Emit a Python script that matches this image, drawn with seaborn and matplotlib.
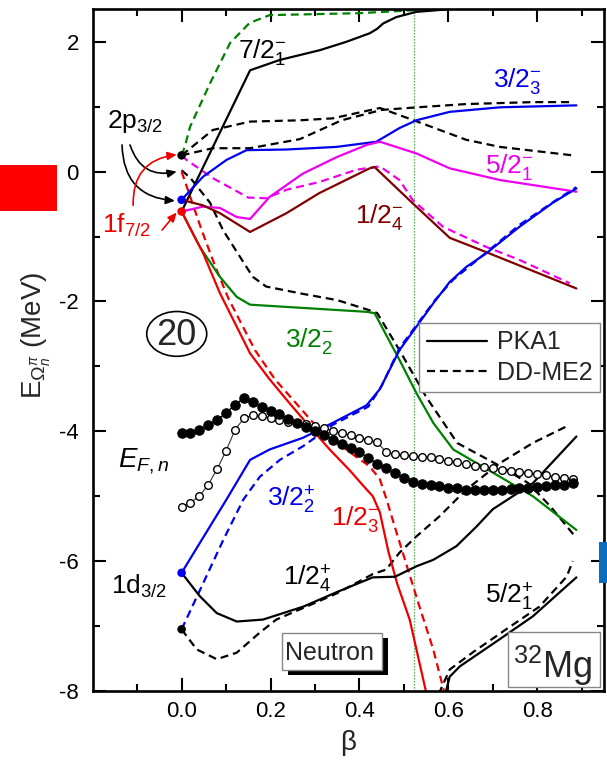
import matplotlib
matplotlib.use("Agg")
import matplotlib.pyplot as plt
import seaborn as sns
from matplotlib.patches import Rectangle, Ellipse
from matplotlib.lines import Line2D

# ---------------- single-neutron levels of 32Mg vs. deformation beta ----------------
# PKA1 (solid lines)
b_72m1_pka = [0.0, 0.154, 0.221, 0.311, 0.371, 0.423, 0.44, 0.453, 0.483, 0.528, 0.60]
e_72m1_pka = [-0.615, 1.56, 1.72, 1.87, 2.0, 2.13, 2.2, 2.28, 2.38, 2.46, 2.5]

b_32m3_pka = [0.0, 0.048, 0.101, 0.146, 0.236, 0.348, 0.416, 0.438, 0.49, 0.528, 0.603, 0.716, 0.888]
e_32m3_pka = [-0.435, -0.08, 0.18, 0.33, 0.34, 0.38, 0.44, 0.46, 0.67, 0.79, 0.92, 0.99, 1.02]

b_52m1_pka = [0.0, 0.048, 0.086, 0.124, 0.154, 0.198, 0.273, 0.348, 0.416, 0.446, 0.528, 0.603, 0.716, 0.888]
e_52m1_pka = [-0.615, -0.54, -0.56, -0.70, -0.73, -0.39, -0.03, 0.22, 0.41, 0.46, 0.28, 0.05, -0.13, -0.31]

b_12m4_pka = [0.0, 0.048, 0.086, 0.154, 0.236, 0.31, 0.423, 0.434, 0.52, 0.603, 0.685, 0.888]
e_12m4_pka = [-0.435, -0.52, -0.64, -0.93, -0.64, -0.33, 0.05, 0.07, -0.49, -1.02, -1.24, -1.80]

b_32m2_pka = [0.0, 0.041, 0.086, 0.124, 0.154, 0.273, 0.416, 0.434, 0.49, 0.528, 0.566, 0.611, 0.716, 0.79, 0.888]
e_32m2_pka = [-0.615, -1.16, -1.62, -1.93, -2.05, -2.10, -2.16, -2.18, -2.90, -3.41, -3.87, -4.28, -4.70, -5.00, -5.52]

b_12m3_pka = [0.0, 0.025, 0.048, 0.086, 0.124, 0.154, 0.198, 0.243, 0.288, 0.333, 0.378, 0.41, 0.43, 0.446, 0.465, 0.485, 0.513, 0.551]
e_12m3_pka = [-0.615, -0.95, -1.25, -1.87, -2.39, -2.80, -3.20, -3.57, -3.93, -4.28, -4.60, -4.85, -5.00, -5.25, -5.85, -6.35, -6.90, -8.05]

b_12p4_pka = [0.0, 0.041, 0.079, 0.124, 0.183, 0.274, 0.348, 0.43, 0.48, 0.528, 0.566, 0.618, 0.663, 0.70, 0.79, 0.888]
e_12p4_pka = [-6.18, -6.54, -6.80, -6.93, -6.90, -6.70, -6.48, -6.25, -6.24, -6.08, -5.98, -5.77, -5.47, -5.20, -4.80, -4.08]

b_32p2_pka = [0.0, 0.041, 0.101, 0.154, 0.198, 0.273, 0.34, 0.416, 0.446, 0.468, 0.49, 0.528, 0.566, 0.603, 0.64, 0.685, 0.76, 0.835, 0.888]
e_32p2_pka = [-6.18, -5.72, -5.05, -4.44, -4.28, -4.10, -3.87, -3.60, -3.35, -3.05, -2.75, -2.39, -2.03, -1.70, -1.47, -1.26, -0.85, -0.48, -0.26]

b_52p1_pka = [0.593, 0.603, 0.626, 0.716, 0.79, 0.888]
e_52p1_pka = [-8.05, -7.78, -7.62, -7.20, -6.85, -6.25]

# DD-ME2 (dashed lines)
b_72m1_dd = [0.0, 0.007, 0.019, 0.064, 0.109, 0.153, 0.198, 0.40, 0.535]
e_72m1_dd = [0.25, 0.38, 0.69, 1.36, 1.98, 2.29, 2.41, 2.44, 2.49]

b_upper_dd = [0.0, 0.07, 0.154, 0.266, 0.34, 0.446, 0.53, 0.64, 0.716, 0.88]
e_upper_dd = [0.25, 0.64, 0.77, 0.79, 0.82, 0.98, 0.77, 0.49, 0.38, 0.25]

b_lower_dd = [0.0, 0.07, 0.154, 0.266, 0.36, 0.45, 0.53, 0.64, 0.79, 0.88]
e_lower_dd = [0.25, 0.36, 0.36, 0.50, 0.79, 0.95, 0.99, 1.04, 1.07, 1.07]

b_52m1_dd = [0.0, 0.011, 0.07, 0.15, 0.19, 0.236, 0.31, 0.394, 0.446, 0.49, 0.52, 0.588, 0.685, 0.76, 0.873]
e_52m1_dd = [0.25, 0.18, -0.10, -0.40, -0.41, -0.28, -0.16, 0.03, 0.08, -0.13, -0.44, -0.85, -1.16, -1.36, -1.72]

b_32m2_dd = [0.0, 0.02, 0.064, 0.093, 0.131, 0.16, 0.19, 0.27, 0.35, 0.42, 0.44, 0.49, 0.55, 0.62, 0.72, 0.78, 0.83, 0.885]
e_32m2_dd = [0.02, -0.10, -0.48, -0.90, -1.31, -1.62, -1.77, -1.88, -1.98, -2.13, -2.18, -2.75, -3.47, -4.18, -4.55, -4.80, -5.16, -5.62]

b_12m3_dd = [0.0, 0.01, 0.025, 0.045, 0.075, 0.105, 0.135, 0.165, 0.21, 0.255, 0.30, 0.345, 0.39, 0.423, 0.446, 0.461, 0.483, 0.506, 0.535, 0.566, 0.592]
e_12m3_dd = [0.0, -0.20, -0.50, -0.90, -1.45, -1.95, -2.35, -2.75, -3.20, -3.55, -3.90, -4.15, -4.38, -4.54, -4.74, -5.05, -5.55, -6.06, -6.70, -7.36, -8.05]

b_32p2_dd = [0.0, 0.041, 0.094, 0.139, 0.176, 0.221, 0.273, 0.304, 0.34, 0.42, 0.45, 0.49, 0.53, 0.57, 0.61, 0.69, 0.76, 0.84, 0.888]
e_32p2_dd = [-7.05, -6.45, -5.67, -5.05, -4.70, -4.44, -4.23, -4.08, -3.90, -3.62, -3.30, -2.72, -2.35, -1.98, -1.67, -1.22, -0.82, -0.45, -0.24]

b_12p4_dd = [0.0, 0.034, 0.079, 0.124, 0.176, 0.213, 0.274, 0.348, 0.43, 0.46, 0.49, 0.528, 0.58, 0.618, 0.64, 0.716, 0.79, 0.873]
e_12p4_dd = [-7.05, -7.36, -7.51, -7.41, -7.10, -6.90, -6.72, -6.50, -6.20, -6.13, -5.87, -5.62, -5.31, -5.05, -4.90, -4.49, -4.18, -3.90]

b_52p1_dd = [0.578, 0.603, 0.656, 0.73, 0.805, 0.866, 0.88]
e_52p1_dd = [-8.05, -7.67, -7.40, -7.05, -6.70, -6.24, -6.00]

# Neutron Fermi energy
beta_grid = [0.00, 0.02, 0.04, 0.06, 0.08, 0.10, 0.12, 0.14, 0.16, 0.18,
             0.20, 0.22, 0.24, 0.26, 0.28, 0.30, 0.32, 0.34, 0.36, 0.38,
             0.40, 0.42, 0.44, 0.46, 0.48, 0.50, 0.52, 0.54, 0.56, 0.58,
             0.60, 0.62, 0.64, 0.66, 0.68, 0.70, 0.72, 0.74, 0.76, 0.78,
             0.80, 0.82, 0.84, 0.86, 0.88]
ef_pka = [-4.03, -4.03, -3.98, -3.90, -3.82, -3.72, -3.59, -3.49, -3.55, -3.62,
          -3.68, -3.74, -3.81, -3.88, -3.94, -3.99, -4.06, -4.13, -4.19, -4.25,
          -4.32, -4.41, -4.50, -4.57, -4.65, -4.72, -4.78, -4.81, -4.83, -4.85,
          -4.87, -4.88, -4.90, -4.90, -4.90, -4.90, -4.90, -4.89, -4.88, -4.87,
          -4.86, -4.85, -4.83, -4.82, -4.80]
ef_dd = [-5.16, -5.10, -5.00, -4.82, -4.58, -4.30, -3.98, -3.80, -3.75, -3.76,
         -3.80, -3.82, -3.85, -3.87, -3.89, -3.92, -3.95, -3.99, -4.03, -4.06,
         -4.10, -4.13, -4.17, -4.32, -4.35, -4.37, -4.38, -4.39, -4.40, -4.43,
         -4.46, -4.48, -4.51, -4.53, -4.55, -4.57, -4.59, -4.61, -4.62, -4.64,
         -4.66, -4.68, -4.70, -4.72, -4.74]

# spherical levels at beta = 0
sph_black_e = [0.25, -7.05]
sph_blue_e = [-0.435, -6.18]
sph_red_e = [-0.615]

# ---------------- style ----------------
sns.set_theme(style="ticks")
plt.rcParams.update({
    "font.family": ["Liberation Sans", "DejaVu Sans"],
    "mathtext.fontset": "custom",
    "mathtext.rm": "Liberation Sans",
    "mathtext.it": "Liberation Sans:italic",
    "mathtext.bf": "Liberation Sans:bold",
    "mathtext.sf": "Liberation Sans",
    "axes.unicode_minus": False,
    "axes.linewidth": 1.9,
    "axes.edgecolor": "black",
})

BLACK, BLUE, MAGENTA, BROWN = "#000000", "#0000ee", "#ee00ee", "#800000"
GREEN, RED = "#008000", "#ee0000"
LW = 1.6
DASH = (0, (3.6, 2.2))

fig = plt.figure(figsize=(6.07, 7.60), dpi=100)
ax = fig.add_axes([0.1527, 0.0908, 0.995 - 0.1527, 0.9878 - 0.0908])

ax.axvline(0.522, color="#2f9a2f", lw=0.9, ls=(0, (1, 1.4)), zorder=1)

curves = [
    (b_72m1_dd, e_72m1_dd, GREEN, DASH),
    (b_upper_dd, e_upper_dd, BLACK, DASH),
    (b_lower_dd, e_lower_dd, BLACK, DASH),
    (b_52m1_dd, e_52m1_dd, MAGENTA, DASH),
    (b_32m2_dd, e_32m2_dd, BLACK, DASH),
    (b_12m3_dd, e_12m3_dd, RED, DASH),
    (b_32p2_dd, e_32p2_dd, BLUE, DASH),
    (b_12p4_dd, e_12p4_dd, BLACK, DASH),
    (b_52p1_dd, e_52p1_dd, BLACK, DASH),
    (b_72m1_pka, e_72m1_pka, BLACK, "-"),
    (b_32m3_pka, e_32m3_pka, BLUE, "-"),
    (b_52m1_pka, e_52m1_pka, MAGENTA, "-"),
    (b_12m4_pka, e_12m4_pka, BROWN, "-"),
    (b_32m2_pka, e_32m2_pka, GREEN, "-"),
    (b_12m3_pka, e_12m3_pka, RED, "-"),
    (b_12p4_pka, e_12p4_pka, BLACK, "-"),
    (b_32p2_pka, e_32p2_pka, BLUE, "-"),
    (b_52p1_pka, e_52p1_pka, BLACK, "-"),
]
for bx, ey, col, ls in curves:
    sns.lineplot(x=bx, y=ey, ax=ax, color=col, lw=LW, linestyle=ls,
                 sort=False, estimator=None, legend=False, zorder=2)

# Fermi energies
sns.lineplot(x=beta_grid, y=ef_dd, ax=ax, color="#333333", lw=0.8, marker="o",
             markersize=5.5, markerfacecolor="white", markeredgecolor="black",
             markeredgewidth=1.0, sort=False, estimator=None, legend=False, zorder=3)
sns.lineplot(x=beta_grid, y=ef_pka, ax=ax, color="black", lw=1.0, marker="o",
             markersize=6.8, markerfacecolor="black", markeredgecolor="black",
             sort=False, estimator=None, legend=False, zorder=4)

# spherical points
sns.scatterplot(x=[0.0] * len(sph_black_e), y=sph_black_e, ax=ax, color=BLACK, s=38,
                edgecolor="none", zorder=5, legend=False)
sns.scatterplot(x=[0.0] * len(sph_blue_e), y=sph_blue_e, ax=ax, color=BLUE, s=38,
                edgecolor="none", zorder=5, legend=False)
sns.scatterplot(x=[0.0] * len(sph_red_e), y=sph_red_e, ax=ax, color=RED, s=38,
                edgecolor="none", zorder=5, legend=False)

# axes
ax.set_xlim(-0.2, 0.95)
ax.set_ylim(-8, 2.5)
ax.set_xticks([0.0, 0.2, 0.4, 0.6, 0.8])
ax.set_xticklabels(["0.0", "0.2", "0.4", "0.6", "0.8"])
ax.set_xticks([-0.1, 0.1, 0.3, 0.5, 0.7, 0.9], minor=True)
ax.set_yticks([-8, -6, -4, -2, 0, 2])
ax.set_yticklabels(["-8", "-6", "-4", "-2", "0", "2"])
ax.set_yticks([-7, -5, -3, -1, 1], minor=True)
ax.tick_params(which="both", direction="in", top=True, right=True, width=1.5,
               labelsize=16, colors="black")
ax.tick_params(which="major", length=9.4)
ax.tick_params(which="minor", length=4.7)
ax.tick_params(axis="x", pad=7)
ax.tick_params(axis="y", pad=10)
for sp in ax.spines.values():
    sp.set_visible(True)
    sp.set_linewidth(1.9)

ax.set_xlabel("β", fontsize=20)
ax.set_ylabel(r"E$_{\Omega_n^{\pi}}$ (MeV)", fontsize=20)
ax.xaxis.set_label_coords(0.5, -0.057)
ax.yaxis.set_label_coords(-0.078, 0.522)

# level labels
LAB = 19
def lab(x, y, s, c, size=LAB):
    ax.text(x, y, s, color=c, fontsize=size, ha="left", va="baseline", zorder=6)

lab(0.127, 1.75, r"$7/2^{-}_{1}$", BLACK)
lab(0.700, 1.30, r"$3/2^{-}_{3}$", BLUE)
lab(0.682, -0.02, r"$5/2^{-}_{1}$", MAGENTA)
lab(0.390, -0.79, r"$1/2^{-}_{4}$", BROWN)
lab(0.233, -2.70, r"$3/2^{-}_{2}$", GREEN)
lab(0.192, -5.16, r"$3/2^{+}_{2}$", BLUE)
lab(0.335, -5.44, r"$1/2^{-}_{3}$", RED)
lab(0.228, -6.38, r"$1/2^{+}_{4}$", BLACK)
lab(0.682, -6.65, r"$5/2^{+}_{1}$", BLACK)
lab(-0.159, -6.50, r"1d$_{3/2}$", BLACK)
lab(-0.168, 0.67, r"2p$_{3/2}$", BLACK)
lab(-0.179, -0.95, r"1f$_{7/2}$", RED)
lab(-0.143, -4.55, r"$E_{F,n}$", BLACK, 20)

# shell gap marker
ax.add_patch(Ellipse((-0.011, -2.50), width=0.135, height=0.69, fill=False,
                     ec="black", lw=1.2, zorder=6))
ax.text(-0.011, -2.52, "20", fontsize=26, ha="center", va="center", zorder=6)

# arrows pointing to spherical levels
akw = dict(arrowstyle="-|>,head_length=0.45,head_width=0.2", lw=1.2,
           shrinkA=0, shrinkB=0)
ax.annotate("", xy=(-0.011, 0.0), xytext=(-0.116, 0.41),
            arrowprops=dict(color="black", connectionstyle="arc3,rad=0.45", **akw))
ax.annotate("", xy=(-0.015, -0.45), xytext=(-0.134, 0.41),
            arrowprops=dict(color="black", connectionstyle="arc3,rad=0.45", **akw))
ax.annotate("", xy=(-0.011, 0.26), xytext=(-0.109, -0.52),
            arrowprops=dict(color=RED, connectionstyle="arc3,rad=-0.45", **akw))
ax.annotate("", xy=(-0.011, -0.63), xytext=(-0.044, -0.90),
            arrowprops=dict(color=RED, connectionstyle="arc3,rad=0.0", **akw))

# legend
handles = [Line2D([], [], color="black", lw=LW),
           Line2D([], [], color="black", lw=LW, ls=DASH)]
leg = ax.legend(handles, ["PKA1", "DD-ME2"], loc="upper right",
                bbox_to_anchor=(0.992, 0.540), fontsize=18, frameon=True,
                fancybox=False, edgecolor="#888888", framealpha=1,
                borderaxespad=0, handlelength=2.4, handletextpad=0.4,
                borderpad=0.3, labelspacing=0.25)
leg.get_frame().set_linewidth(1.0)

# "Neutron" tag with drop shadow
ax.add_patch(Rectangle((0.370 + 0.0117, 0.0308 - 0.0073), 0.196, 0.0543,
                       transform=ax.transAxes, fc="black", ec="none", zorder=7))
ax.add_patch(Rectangle((0.370, 0.0308), 0.196, 0.0543, transform=ax.transAxes,
                       fc="white", ec="#888888", lw=1.0, zorder=8))
ax.text(0.376, 0.0455, "Neutron", transform=ax.transAxes, fontsize=18,
        ha="left", va="baseline", zorder=9)

# nucleus tag
ax.add_patch(Rectangle((0.812, 0.006), 0.18, 0.0806, transform=ax.transAxes,
                       fc="white", ec="#888888", lw=1.0, zorder=8))
ax.text(0.822, 0.019, r"$^{32}$Mg", transform=ax.transAxes, fontsize=26,
        ha="left", va="baseline", zorder=9)

# colour markers at the figure edges
fig.patches.append(Rectangle((0.0, 0.722), 0.094, 0.061, transform=fig.transFigure,
                             fc="#ff0000", ec="none", zorder=10))
fig.patches.append(Rectangle((0.987, 0.233), 0.013, 0.054, transform=fig.transFigure,
                             fc="#0a6ebd", ec="none", zorder=10))

fig.savefig("out.png", dpi=100)
